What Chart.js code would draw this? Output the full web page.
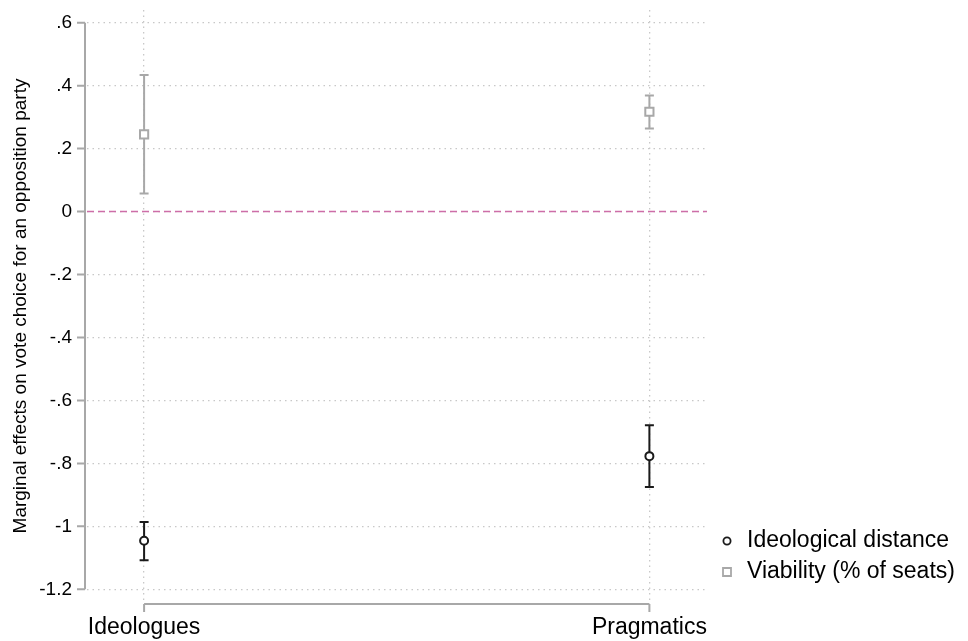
<!DOCTYPE html>
<html>
<head>
<meta charset="utf-8">
<script src="https://cdn.jsdelivr.net/npm/chart.js@4.4.1/dist/chart.umd.min.js"></script>
<style>
  html, body { margin: 0; padding: 0; background: #fff; }
  #wrap { width: 968px; height: 641px; }
</style>
</head>
<body>
<div id="wrap"><canvas id="mfx" width="968" height="641"></canvas></div>

<script type="text/javascript">
    // categories on the x axis (0 = Ideologues, 1 = Pragmatics)
    const groups = ['Ideologues', 'Pragmatics'];
    const seriesNames = ['Ideological distance', 'Viability (% of seats)'];

    // point estimates and 95% CI bounds
    const ideoEst = [-1.046, -0.777];
    const ideoLo  = [-1.108, -0.875];
    const ideoHi  = [-0.986, -0.679];

    const viabEst = [0.245, 0.317];
    const viabLo  = [0.057, 0.264];
    const viabHi  = [0.434, 0.369];

    const yTicks = [0.6, 0.4, 0.2, 0, -0.2, -0.4, -0.6, -0.8, -1, -1.2];
    const yTitle = 'Marginal effects on vote choice for an opposition party';

    const FONT = '"Liberation Sans", Arial, sans-serif';
    const BLACK = '#1a1a1a';
    const GREY = '#a8a8a8';
    const GRID = '#c8c8c8';

    function fmt(v) {
      if (v === 0) return '0';
      var s = String(Math.round(v * 10) / 10);
      return s.replace('0.', '.');
    }

    function toPts(est) {
      return est.map(function (v, i) { return { x: i, y: v }; });
    }

    // Stata style axes, error bars, zero line and legend
    const stataBits = {
      id: 'stataBits',
      beforeDatasetsDraw(chart) {
        const c = chart.ctx, xs = chart.scales.x, ys = chart.scales.y, a = chart.chartArea;

        // zero reference line
        c.save();
        c.strokeStyle = 'rgb(205,110,168)';
        c.lineWidth = 1.6;
        c.setLineDash([7, 4]);
        const y0 = ys.getPixelForValue(0);
        c.beginPath(); c.moveTo(a.left, y0); c.lineTo(a.right, y0); c.stroke();
        c.restore();

        // error bars
        const sets = [[ideoLo, ideoHi, BLACK], [viabLo, viabHi, GREY]];
        sets.forEach(function (s) {
          c.save();
          c.strokeStyle = s[2];
          c.lineWidth = 2;
          for (let i = 0; i < groups.length; i++) {
            const px = xs.getPixelForValue(i);
            const lo = ys.getPixelForValue(s[0][i]);
            const hi = ys.getPixelForValue(s[1][i]);
            c.beginPath();
            c.moveTo(px, lo); c.lineTo(px, hi);
            c.moveTo(px - 4.5, lo); c.lineTo(px + 4.5, lo);
            c.moveTo(px - 4.5, hi); c.lineTo(px + 4.5, hi);
            c.stroke();
          }
          c.restore();
        });
      },
      afterDraw(chart) {
        const c = chart.ctx, xs = chart.scales.x, ys = chart.scales.y;
        const axX = 85, axY = 604;
        c.save();
        c.strokeStyle = GREY;
        c.lineWidth = 2;

        // y axis: line spans the tick range only
        const yTop = ys.getPixelForValue(yTicks[0]);
        const yBot = ys.getPixelForValue(yTicks[yTicks.length - 1]);
        c.beginPath();
        c.moveTo(axX, yTop); c.lineTo(axX, yBot);
        yTicks.forEach(function (t) {
          const py = ys.getPixelForValue(t);
          c.moveTo(axX - 8, py); c.lineTo(axX, py);
        });
        c.stroke();

        c.fillStyle = '#000';
        c.font = '19px ' + FONT;
        c.textAlign = 'right';
        c.textBaseline = 'middle';
        yTicks.forEach(function (t) {
          c.fillText(fmt(t), axX - 13, ys.getPixelForValue(t));
        });

        // x axis
        const xL = xs.getPixelForValue(0), xR = xs.getPixelForValue(groups.length - 1);
        c.beginPath();
        c.moveTo(xL, axY); c.lineTo(xR, axY);
        groups.forEach(function (g, i) {
          const px = xs.getPixelForValue(i);
          c.moveTo(px, axY); c.lineTo(px, axY + 8);
        });
        c.stroke();

        c.font = '23px ' + FONT;
        c.textAlign = 'center';
        groups.forEach(function (g, i) {
          c.fillText(g, xs.getPixelForValue(i), 628);
        });

        // y title
        c.save();
        c.translate(21, (yTop + yBot) / 2);
        c.rotate(-Math.PI / 2);
        c.font = '19px ' + FONT;
        c.fillText(yTitle, 0, 0);
        c.restore();

        // legend
        c.font = '23px ' + FONT;
        c.textAlign = 'left';
        chart.data.datasets.forEach(function (ds, i) {
          const ly = 541 + i * 31;
          c.fillText(ds.label, 747, ly);
          c.lineWidth = 1.8;
          c.strokeStyle = ds.borderColor;
          c.fillStyle = '#fff';
          c.beginPath();
          if (ds.pointStyle === 'circle') {
            c.arc(727, ly, 3.6, 0, Math.PI * 2);
          } else {
            c.rect(723, ly - 4, 8, 8);
          }
          c.fill(); c.stroke();
          c.fillStyle = '#000';
        });
        c.restore();
      }
    };

    const chart = new Chart(document.getElementById('mfx').getContext('2d'), {
      type: 'scatter',
      data: {
        datasets: [
          {
            label: seriesNames[0],
            data: toPts(ideoEst),
            pointStyle: 'circle',
            pointRadius: 4,
            pointBorderWidth: 2,
            borderColor: BLACK,
            backgroundColor: '#fff'
          },
          {
            label: seriesNames[1],
            data: toPts(viabEst),
            pointStyle: 'rect',
            pointRadius: 5.8,
            pointBorderWidth: 2,
            borderColor: GREY,
            backgroundColor: '#fff'
          }
        ]
      },
      options: {
        responsive: false,
        animation: false,
        layout: { padding: { left: 87, right: 261, top: 10, bottom: 38 } },
        plugins: { legend: { display: false }, tooltip: { enabled: false } },
        scales: {
          x: {
            type: 'linear',
            min: -0.113,
            max: 1.114,
            afterBuildTicks: function (s) { s.ticks = groups.map(function (g, i) { return { value: i }; }); },
            ticks: { display: false },
            border: { display: false, dash: [1.5, 4] },
            grid: { color: GRID, lineWidth: 1.3, drawTicks: false }
          },
          y: {
            min: -1.2435,
            max: 0.6403,
            afterBuildTicks: function (s) { s.ticks = yTicks.map(function (v) { return { value: v }; }); },
            ticks: { display: false },
            border: { display: false, dash: [1.5, 4] },
            grid: { color: GRID, lineWidth: 1.3, drawTicks: false }
          }
        }
      },
      plugins: [stataBits]
    });
  </script>
</body>
</html>
